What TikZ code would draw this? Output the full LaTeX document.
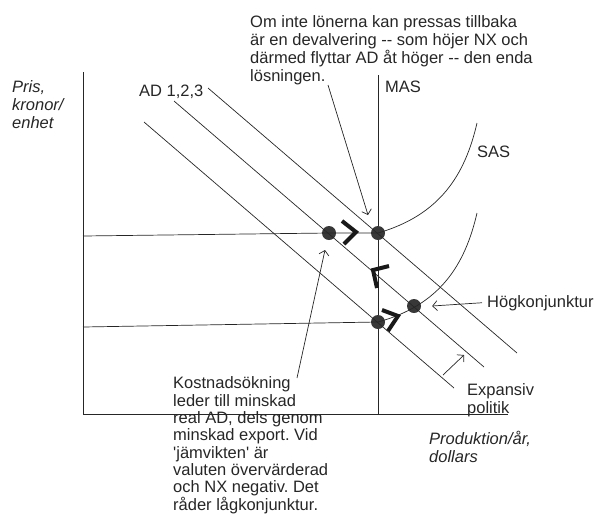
\documentclass[tikz,border=0pt]{standalone}
\usepackage{fontspec}
\setmainfont{Liberation Sans}
\usetikzlibrary{arrows.meta}
\frenchspacing

\begin{document}
\begin{tikzpicture}[x=1pt, y=-1pt, >={Straight Barb[length=4.5pt,width=10pt]},
  txt/.style={anchor=base west, inner sep=0pt, align=left, text=black!85,
              font=\fontsize{16.5}{18}\selectfont},
  itxt/.style={txt, font=\fontsize{16.5}{18}\selectfont\itshape},
  dot/.style={circle, fill=black!78, minimum size=14pt, inner sep=0pt},
  chev/.style={line width=4pt, black!90},
  ln/.style={line width=0.7pt, black!85}]
  \useasboundingbox (0,0) rectangle (594,515);

  % axes and long-run supply
  \coordinate (ytop) at (83,72);
  \coordinate (o) at (83,414);
  \coordinate (xend) at (508,414);
  \coordinate (mastop) at (378,75);
  \coordinate (masbot) at (378,414);
  \draw[ln] (ytop) -- (o) -- (xend);
  \draw[ln] (mastop) -- (masbot);

  % equilibrium points
  \node[dot] (e1) at (378,322) {};
  \node[dot] (e2) at (414,306) {};
  \node[dot] (e3) at (329,233) {};
  \node[dot] (e4) at (378,233) {};

  % AD 1,2,3
  \coordinate (ad1a) at (144,122); \coordinate (ad1b) at (454,388);
  \coordinate (ad2a) at (174,101); \coordinate (ad2b) at (484,367);
  \coordinate (ad3a) at (208,88);  \coordinate (ad3b) at (517,353);
  \draw[ln] (ad1a) -- (ad1b);
  \draw[ln] (ad2a) -- (ad2b);
  \draw[ln] (ad3a) -- (ad3b);

  % SAS, before and after
  \coordinate (sas1) at (477,123);
  \coordinate (sas2) at (477,213);
  \draw[ln] (e4.center) .. controls (440,215) and (465,175) .. (sas1);
  \draw[ln] (e1.center) .. controls (440,305) and (465,265) .. (sas2);

  % price levels
  \coordinate (p1) at (83,236);
  \coordinate (p2) at (83,327);
  \draw[ln] (p1) -- (e3.center) -- (e4.center);
  \draw[ln] (p2) -- (e1.center);

  % movement
  \draw[chev] (342,221) -- (356,232) -- (344,244);
  \draw[chev] (389,266) -- (373,270) -- (377,288);
  \draw[chev] (382,310) -- (398,316) -- (388,331);

  % labels (base = last line)
  \node[itxt] (pris) at (12,128) {Pris,\\kronor/\\enhet};
  \node[itxt] (prod) at (429,462) {Produktion/år,\\dollars};
  \node[txt] (adlab) at (139,96) {AD 1,2,3};
  \node[txt] (maslab) at (385,92) {MAS};
  \node[txt] (saslab) at (477,157) {SAS};
  \node[txt] (hog) at (487,307) {Högkonjunktur};
  \node[txt] (exp) at (467,413) {Expansiv\\politik};
  \node[txt] (note) at (250,81) {Om inte lönerna kan pressas tillbaka\\
    är en devalvering {-}{-} som höjer NX och\\
    därmed flyttar AD åt höger {-}{-} den enda\\
    lösningen.};
  \node[txt, font=\fontsize{16.5}{17.3}\selectfont] (kost) at (173,510)
    {Kostnadsökning\\leder till minskad\\
    real AD, dels genom\\minskad export. Vid\\\textquotesingle jämvikten\textquotesingle{} är\\
    valuten övervärderad\\och NX negativ. Det\\råder lågkonjunktur.};

  % pointers
  \coordinate (notefoot) at (328,85);
  \coordinate (kostfoot) at (297,378);
  \coordinate (expfoot) at (443,375);
  \draw[ln, ->] (notefoot) -- (368,215);
  \draw[ln, ->] (kostfoot) -- (325,250);
  \draw[ln, ->] ([xshift=-5pt]hog.west) -- ([xshift=11pt]e2.east);
  \draw[ln, ->] (expfoot) -- (464,355);
\end{tikzpicture}
\end{document}
